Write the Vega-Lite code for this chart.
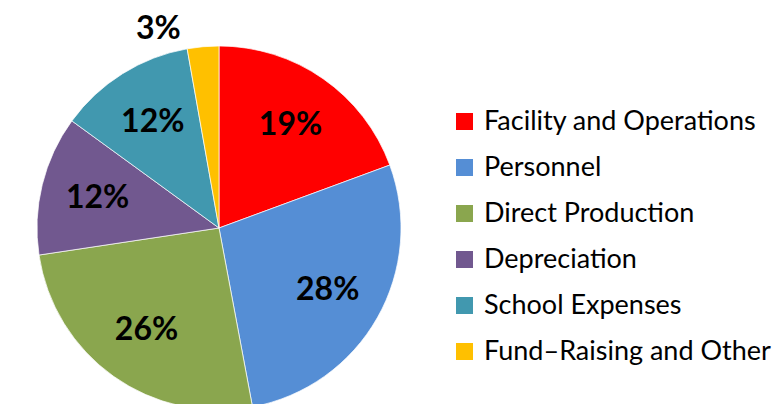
{
  "$schema": "https://vega.github.io/schema/vega-lite/v6.json",
  "width": 782,
  "height": 404,
  "padding": 0,
  "autosize": "none",
  "background": "#ffffff",
  "config": {"view": {"stroke": null}},
  "data": {
    "values": [
      {"idx": 1, "category": "Facility and Operations", "value": 19.4, "label": "19%"},
      {"idx": 2, "category": "Personnel", "value": 27.7, "label": "28%"},
      {"idx": 3, "category": "Direct Production", "value": 25.6, "label": "26%"},
      {"idx": 4, "category": "Depreciation", "value": 12.4, "label": "12%"},
      {"idx": 5, "category": "School Expenses", "value": 12.2, "label": "12%"},
      {"idx": 6, "category": "Fund\u2013Raising and Other", "value": 2.8, "label": "3%"}
    ]
  },
  "encoding": {
    "theta": {"field": "value", "type": "quantitative", "stack": true},
    "order": {"field": "idx", "type": "quantitative"},
    "color": {
      "field": "category",
      "type": "nominal",
      "sort": null,
      "scale": {
        "domain": ["Facility and Operations", "Personnel", "Direct Production", "Depreciation", "School Expenses", "Fund\u2013Raising and Other"],
        "range": ["#FF0000", "#558ED5", "#8AA64E", "#71588F", "#4198AF", "#FFC000"]
      },
      "legend": {
        "orient": "none",
        "legendX": 451,
        "legendY": 108,
        "title": null,
        "symbolType": "square",
        "symbolSize": 289,
        "symbolStrokeWidth": 0,
        "labelFont": "Lato",
        "labelFontSize": 27,
        "labelColor": "#000000",
        "labelLimit": 400,
        "labelOffset": 6,
        "rowPadding": 18
      }
    }
  },
  "layer": [
    {
      "mark": {"type": "arc", "outerRadius": 182, "xOffset": -172, "yOffset": 26, "stroke": "#ffffff", "strokeWidth": 0.7}
    },
    {
      "mark": {"type": "text", "radius": 125, "xOffset": -172, "yOffset": 26, "font": "Lato", "fontWeight": "bold", "fontSize": 32, "fill": "#000000"},
      "encoding": {
        "text": {"condition": {"test": "datum.idx < 6", "field": "label"}, "value": ""},
        "color": {"value": "#000000"}
      }
    },
    {
      "mark": {"type": "text", "radius": 200, "xOffset": -172, "yOffset": 26, "dx": -43, "font": "Lato", "fontWeight": "bold", "fontSize": 32, "fill": "#000000"},
      "encoding": {
        "text": {"condition": {"test": "datum.idx == 6", "field": "label"}, "value": ""},
        "color": {"value": "#000000"}
      }
    }
  ]
}
